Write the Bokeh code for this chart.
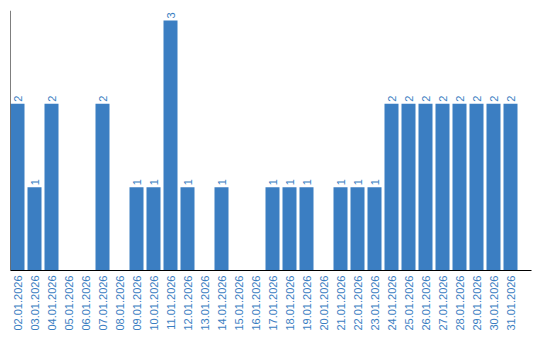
import math
from bokeh.plotting import figure
from bokeh.models import Range1d, FixedTicker, Span, ColumnDataSource
from bokeh.core.properties import value
from bokeh.embed import file_html
from bokeh.resources import INLINE

dates = ["02.01.2026", "03.01.2026", "04.01.2026", "05.01.2026", "06.01.2026",
         "07.01.2026", "08.01.2026", "09.01.2026", "10.01.2026", "11.01.2026",
         "12.01.2026", "13.01.2026", "14.01.2026", "15.01.2026", "16.01.2026",
         "17.01.2026", "18.01.2026", "19.01.2026", "20.01.2026", "21.01.2026",
         "22.01.2026", "23.01.2026", "24.01.2026", "25.01.2026", "26.01.2026",
         "27.01.2026", "28.01.2026", "29.01.2026", "30.01.2026", "31.01.2026"]
counts = [2, 1, 2, 0, 0, 2, 0, 1, 1, 3, 1, 0, 1, 0, 0, 1, 1, 1, 0, 1,
          1, 1, 2, 2, 2, 2, 2, 2, 2, 2]

BLUE = "#3b7ec2"
FONT = "Liberation Sans"

xs = list(range(len(dates)))
src = ColumnDataSource(dict(x=xs, top=counts))
lab_x = [x for x, c in zip(xs, counts) if c > 0]
lab_y = [c for c in counts if c > 0]
lab_t = [str(c) for c in counts if c > 0]
lab_src = ColumnDataSource(dict(x=lab_x, y=lab_y, t=lab_t))

p = figure(width=540, height=340, output_backend="svg", toolbar_location=None,
           x_range=Range1d(-7/17, -7/17 + 521/17), y_range=Range1d(0, 3.12),
           min_border_left=10, min_border_right=9, min_border_top=10,
           min_border_bottom=70)
p.outline_line_color = None
p.xgrid.visible = False
p.ygrid.visible = False
p.yaxis.visible = False

p.vbar(x="x", top="top", width=14/17, source=src, color=BLUE, line_color=None)
p.text(x="x", y="y", text="t", source=lab_src, angle=math.pi/2,
       text_align="left", text_baseline="middle", y_offset=-2,
       text_font=value(FONT), text_font_size="11px", text_color=BLUE)

p.add_layout(Span(location=-7/17, dimension="height", line_color="black", line_width=1))

ax = p.xaxis[0]
ax.ticker = FixedTicker(ticks=xs)
ax.major_label_overrides = {i: d for i, d in zip(xs, dates)}
ax.major_label_orientation = math.pi/2
ax.major_tick_line_color = None
ax.minor_tick_line_color = None
ax.major_tick_out = 0
ax.major_tick_in = 0
ax.major_label_standoff = 5
ax.axis_line_color = "black"
ax.major_label_text_font = FONT
ax.major_label_text_font_size = "11px"
ax.major_label_text_color = BLUE

open("out.html", "w").write(file_html(p, INLINE))
